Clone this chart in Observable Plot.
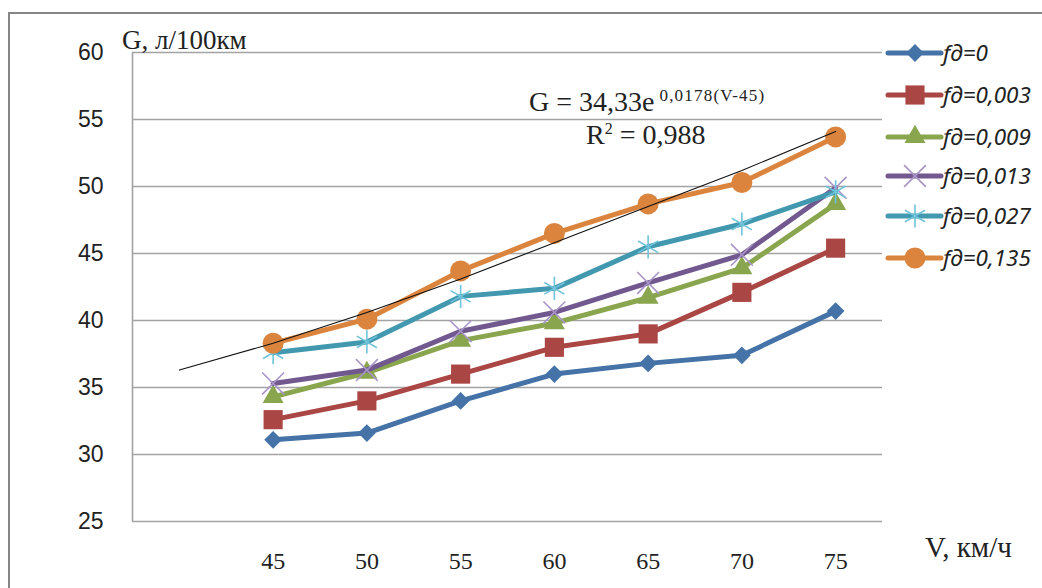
<!DOCTYPE html>
<html>
<head>
<meta charset="utf-8">
<script src="https://cdn.jsdelivr.net/npm/d3@7"></script>
<script src="https://cdn.jsdelivr.net/npm/@observablehq/plot@0.6"></script>
<style>
  html, body { margin: 0; padding: 0; background: #fff; }
  #chart { position: relative; width: 1042px; height: 588px; overflow: hidden; }
</style>
</head>
<body>
<div id="chart"></div>
<script>
// ---- Data ----
const speeds = [45, 50, 55, 60, 65, 70, 75];
const seriesNames = ["fд=0", "fд=0,003", "fд=0,009", "fд=0,013", "fд=0,027", "fд=0,135"];
const gF0     = [31.1, 31.6, 34.0, 36.0, 36.8, 37.4, 40.7];
const gF0003  = [32.6, 34.0, 36.0, 38.0, 39.0, 42.1, 45.4];
const gF0009  = [34.3, 36.1, 38.5, 39.8, 41.7, 43.9, 48.7];
const gF0013  = [35.3, 36.3, 39.2, 40.6, 42.8, 44.9, 49.9];
const gF0027  = [37.6, 38.4, 41.8, 42.4, 45.5, 47.2, 49.6];
const gF0135  = [38.3, 40.1, 43.7, 46.5, 48.7, 50.3, 53.7];
const trendSpeeds = [40, 45, 50, 55, 60, 65, 70, 75];
const trendG      = [36.3, 38.3, 40.6, 43.1, 45.8, 48.5, 51.2, 54.1];
const yTicks = [25, 30, 35, 40, 45, 50, 55, 60];
const xTicks = speeds;
const seriesValues = [gF0, gF0003, gF0009, gF0013, gF0027, gF0135];

// ---- Styles ----
const colors   = ["#4572A7", "#AA4643", "#89A54E", "#71588F", "#4198AF", "#DB843D"];
const markStroke = ["none", "none", "none", "#A995C8", "#6FC3DA", "none"];
const symbols  = ["diamond2", "square", "triangle", "times", "asterisk", "circle"];
const radii    = [8, 10.8, 7.8, 10, 11, 10.5];

const rows = [];
seriesNames.forEach((s, i) => speeds.forEach((v, j) => rows.push({s, i, V: v, G: seriesValues[i][j]})));
const trendRows = trendSpeeds.map((v, j) => ({V: v, G: trendG[j]}));

const marks = [
  Plot.ruleY(yTicks, {stroke: "#a3a3a3", strokeWidth: 1.6}),
  Plot.ruleX([37.5], {stroke: "#a3a3a3", strokeWidth: 1.6}),
  Plot.axisY({ticks: yTicks, tickSize: 0, tickPadding: 29, fontSize: 23, fontFamily: "Liberation Sans, Arial, sans-serif", fill: "#222", label: null}),
  Plot.axisX({ticks: xTicks, tickSize: 0, tickPadding: 30, fontSize: 24, fontFamily: "Liberation Serif, Times New Roman, serif", fill: "#222", label: null})
];
seriesNames.forEach((s, i) => {
  const d = rows.filter(r => r.i === i);
  marks.push(Plot.line(d, {x: "V", y: "G", stroke: colors[i], strokeWidth: 5, strokeLinejoin: "round", strokeLinecap: "round"}));
  const stroked = markStroke[i] !== "none";
  marks.push(Plot.dot(d, {
    x: "V", y: "G", symbol: symbols[i], r: radii[i],
    fill: stroked ? "none" : colors[i],
    stroke: stroked ? markStroke[i] : "none",
    strokeWidth: stroked ? 1.6 : 0
  }));
});
marks.push(Plot.line(trendRows, {x: "V", y: "G", stroke: "#111", strokeWidth: 1.1}));

const plot = Plot.plot({
  width: 1042, height: 588,
  marginLeft: 132, marginRight: 160, marginTop: 52, marginBottom: 67,
  x: {domain: [37.5, 77.5]},
  y: {domain: [25, 60]},
  style: {background: "#fff", overflow: "visible"},
  marks
});
document.getElementById("chart").appendChild(plot);

// ---- Annotations: border, titles, equation, legend ----
const svg = d3.select(plot);
const ann = svg.append("g").attr("text-anchor", "start");
ann.append("path").attr("d", "M9,588 V13 H1042").attr("fill", "none").attr("stroke", "#868686").attr("stroke-width", 2);

const serif = "Liberation Serif, Times New Roman, serif";
ann.append("text").attr("x", 122).attr("y", 49).attr("font-family", serif).attr("font-size", 27).attr("fill", "#222").text("G, л/100км");
ann.append("text").attr("x", 925).attr("y", 557).attr("font-family", serif).attr("font-size", 29).attr("fill", "#222").text("V, км/ч");

const eq = ann.append("text").attr("x", 529).attr("y", 111).attr("font-family", serif).attr("font-size", 28).attr("fill", "#222");
eq.append("tspan").text("G = 34,33e");
eq.append("tspan").attr("dx", 5).attr("dy", -10).attr("font-size", 17).attr("letter-spacing", 1.2).text("0,0178(V-45)");
const r2 = ann.append("text").attr("x", 586).attr("y", 144).attr("font-family", serif).attr("font-size", 28).attr("fill", "#222");
r2.append("tspan").text("R");
r2.append("tspan").attr("dy", -10).attr("font-size", 16).text("2");
r2.append("tspan").attr("dy", 10).text(" = 0,988");

const legendY = [53, 95, 137, 176, 216, 258];
const symMap = {diamond2: d3.symbolDiamond2, square: d3.symbolSquare, triangle: d3.symbolTriangle, times: d3.symbolTimes, asterisk: d3.symbolAsterisk, circle: d3.symbolCircle};
seriesNames.forEach((s, i) => {
  const g = ann.append("g").attr("transform", `translate(0,${legendY[i]})`);
  g.append("line").attr("x1", 888).attr("x2", 941).attr("y1", 0).attr("y2", 0)
    .attr("stroke", colors[i]).attr("stroke-width", 5).attr("stroke-linecap", "round");
  const stroked = markStroke[i] !== "none";
  g.append("path").attr("transform", "translate(915,0)")
    .attr("d", d3.symbol(symMap[symbols[i]], Math.PI * radii[i] * radii[i])())
    .attr("fill", stroked ? "none" : colors[i])
    .attr("stroke", stroked ? markStroke[i] : "none")
    .attr("stroke-width", stroked ? 1.6 : 0);
  g.append("text").attr("x", 943).attr("y", 8).attr("font-family", "Noto Sans, Open Sans, sans-serif")
    .attr("font-style", "italic").attr("font-size", 22.5).attr("fill", "#222").text(s);
});
</script>
</body>
</html>
